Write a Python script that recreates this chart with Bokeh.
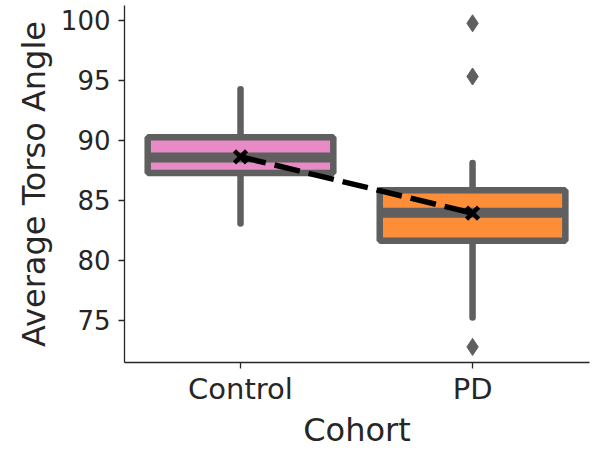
from bokeh.plotting import figure
from bokeh.models import Range1d, FixedTicker
from bokeh.embed import file_html
from bokeh.resources import INLINE

# ---- data ----
categories = ["Control", "PD"]
q1 = [87.28, 81.63]
medians = [88.55, 83.96]
q3 = [90.25, 85.83]
whisker_low = [83.07, 75.24]
whisker_high = [94.25, 88.10]
means = [88.62, 83.93]
outlier_cats = ["PD", "PD", "PD"]
outlier_vals = [99.73, 95.30, 72.80]
y_ticks = [75, 80, 85, 90, 95, 100]

box_colors = ["#e88ac6", "#fd8e37"]
edge = "#5f5f5f"
ink = "#262626"
FONT = "DejaVu Sans"

xs = list(range(len(categories)))
ox = [categories.index(c) for c in outlier_cats]
half = 0.4

p = figure(width=590, height=451, output_backend="svg", toolbar_location=None,
           x_range=Range1d(-0.5, 1.504), y_range=Range1d(71.5, 101.21),
           min_border_left=124, min_border_right=1, min_border_top=5, min_border_bottom=88)
p.outline_line_color = None
p.xgrid.grid_line_color = None
p.ygrid.grid_line_color = None
p.background_fill_color = "white"
p.border_fill_color = "white"

# whiskers
p.segment(x0=xs, y0=q3, x1=xs, y1=whisker_high, line_color=edge, line_width=6.5, line_cap="round")
p.segment(x0=xs, y0=q1, x1=xs, y1=whisker_low, line_color=edge, line_width=6.5, line_cap="round")

# boxes
p.vbar(x=xs, bottom=q1, top=q3, width=2 * half, fill_color=box_colors,
       line_color=edge, line_width=6.5)

# medians
p.segment(x0=[x - half for x in xs], y0=medians, x1=[x + half for x in xs], y1=medians,
          line_color=edge, line_width=10, line_cap="butt")

# outliers
p.scatter(x=ox, y=outlier_vals, marker="diamond", size=17, fill_color=edge, line_color=edge)

# means
p.line(x=xs, y=means, line_color="black", line_width=5.5, line_dash="26 9")
p.scatter(x=xs, y=means, marker="x", size=17, line_color="black", line_width=4.5)

# axes
xa = p.xaxis[0]
xa.ticker = FixedTicker(ticks=xs)
xa.major_label_overrides = {i: c for i, c in enumerate(categories)}
xa.axis_label = "Cohort"
ya = p.yaxis[0]
ya.ticker = FixedTicker(ticks=y_ticks)
ya.axis_label = "Average Torso Angle"

for ax in (xa, ya):
    ax.axis_line_color = ink
    ax.axis_line_width = 1.3
    ax.major_tick_line_color = ink
    ax.major_tick_line_width = 1.3
    ax.major_tick_out = 6
    ax.major_tick_in = 0
    ax.minor_tick_line_color = None
    ax.major_label_text_font = FONT
    ax.major_label_text_color = ink
    ax.axis_label_text_font = FONT
    ax.axis_label_text_color = ink
    ax.axis_label_text_font_style = "normal"
    ax.axis_label_text_font_size = "32px"

xa.major_label_text_font_size = "29px"
xa.major_label_standoff = 3
xa.axis_label_standoff = 2
ya.major_label_text_font_size = "26px"
ya.major_label_standoff = 8
ya.axis_label_standoff = 5

open("out.html", "w").write(file_html(p, INLINE))
